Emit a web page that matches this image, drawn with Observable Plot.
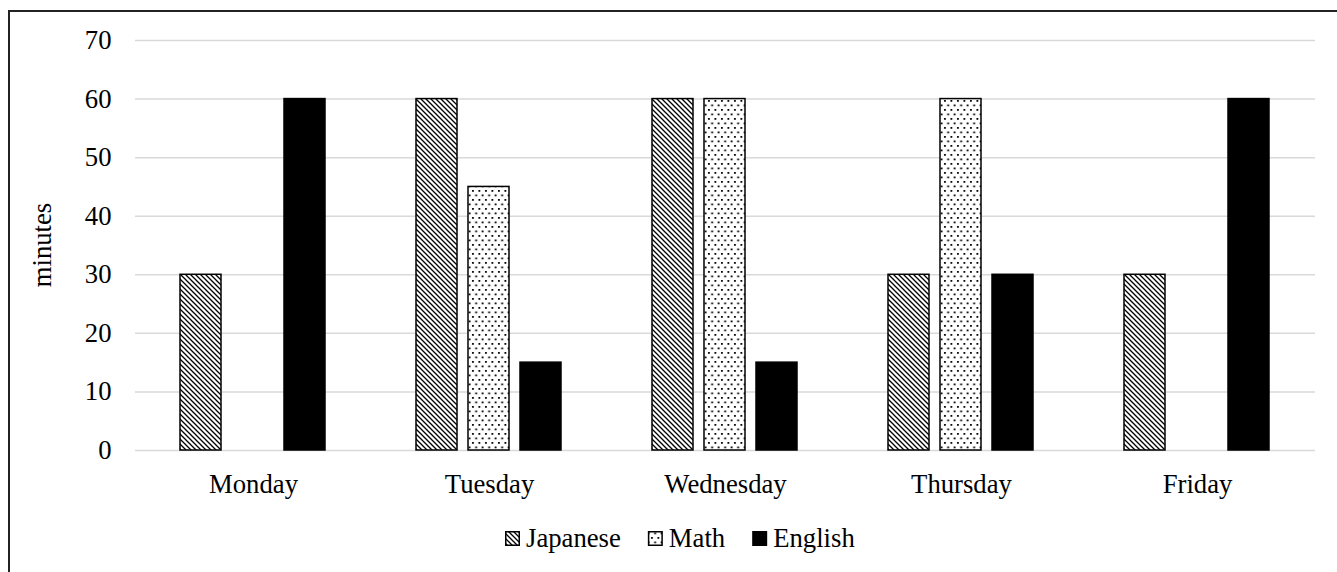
<!DOCTYPE html>
<html>
<head>
<meta charset="utf-8">
<script src="https://cdn.jsdelivr.net/npm/d3@7"></script>
<script src="https://cdn.jsdelivr.net/npm/@observablehq/plot@0.6"></script>
<style>
  html, body { margin: 0; padding: 0; background: #fff; overflow: hidden; }
  #wrap { position: relative; width: 1337px; height: 572px; }
  #border { position: absolute; left: 8px; top: 10px; width: 1400px; height: 640px; border: 2px solid #222; box-sizing: border-box; }
  #chart { position: absolute; left: 0; top: 0; }
  #legend { position: absolute; left: 0; top: 518px; }
</style>
</head>
<body>
<div id="wrap">
  <div id="border"></div>
  <div id="chart"></div>
  <div id="legend"></div>
</div>
<script>
const days = ["Monday", "Tuesday", "Wednesday", "Thursday", "Friday"];
const subjects = ["Japanese", "Math", "English"];
const japanese = [30, 60, 60, 30, 30];
const math = [0, 45, 60, 60, 0];
const english = [60, 15, 15, 30, 60];
const yTicks = [0, 10, 20, 30, 40, 50, 60, 70];

const FONT = "Liberation Serif, Times New Roman, serif";
const series = { Japanese: japanese, Math: math, English: english };
const fills = { Japanese: "url(#pat-jp)", Math: "url(#pat-math)", English: "#000" };

const rows = [];
for (const s of subjects) {
  days.forEach((d, i) => rows.push({ day: d, subject: s, value: series[s][i] }));
}
const barsFor = s => rows.filter(r => r.subject === s && r.value > 0);

const chart = Plot.plot({
  width: 1337,
  height: 572,
  marginLeft: 134,
  marginRight: 21,
  marginTop: 40,
  marginBottom: 122,
  style: { fontFamily: FONT, fontSize: "26.7px", color: "#000", background: "transparent", overflow: "visible" },
  fx: { domain: days, padding: 0, label: null, axis: "bottom", tickSize: 0, tickPadding: 24 },
  x: { domain: subjects, paddingInner: 0.208, paddingOuter: 0.834, axis: null },
  y: { domain: [0, 70], ticks: yTicks, label: null, tickSize: 0, tickPadding: 24 },
  marks: [
    Plot.ruleY(yTicks, { stroke: "#d9d9d9", strokeOpacity: 1, strokeWidth: 1.5 }),
    ...subjects.map(s => Plot.barY(barsFor(s), {
      fx: "day", x: "subject", y: "value",
      fill: fills[s], stroke: "#000", strokeWidth: 1.5
    }))
  ]
});

d3.select(chart).insert("defs", ":first-child").html(`
  <pattern id="pat-jp" patternUnits="userSpaceOnUse" width="5" height="5">
    <rect width="5" height="5" fill="#fff"/>
    <path d="M0,0 L5,5 M-1,4 L1,6 M4,-1 L6,1" stroke="#000" stroke-width="1.3"/>
  </pattern>
  <pattern id="pat-math" patternUnits="userSpaceOnUse" width="6.5" height="9">
    <rect width="6.5" height="9" fill="#fff"/>
    <rect x="1" y="1" width="1.8" height="1.8" fill="#000"/>
    <rect x="4.25" y="5.5" width="1.8" height="1.8" fill="#000"/>
  </pattern>
`);

// y-axis title
d3.select(chart).append("text")
  .attr("transform", `translate(45,245) rotate(-90)`)
  .attr("text-anchor", "middle")
  .attr("dominant-baseline", "middle")
  .attr("font-family", FONT)
  .attr("font-size", "26.7px")
  .attr("fill", "#000")
  .text("minutes");

document.getElementById("chart").appendChild(chart);

// legend (SVG so it uses the same serif rendering as the chart)
const lsvg = d3.select("#legend").append("svg")
  .attr("width", 1337).attr("height", 40)
  .attr("font-family", FONT).attr("font-size", "26.7px");
let lx = 505;
for (const s of subjects) {
  lsvg.append("rect").attr("x", lx + 0.75).attr("y", 13.75).attr("width", 13.5).attr("height", 13.5)
    .attr("fill", fills[s]).attr("stroke", "#000").attr("stroke-width", 1.5);
  const t = lsvg.append("text").attr("x", lx + 21).attr("y", 29).attr("fill", "#000").text(s);
  lx += 21 + t.node().getComputedTextLength() + 27;
}
</script>
</body>
</html>
